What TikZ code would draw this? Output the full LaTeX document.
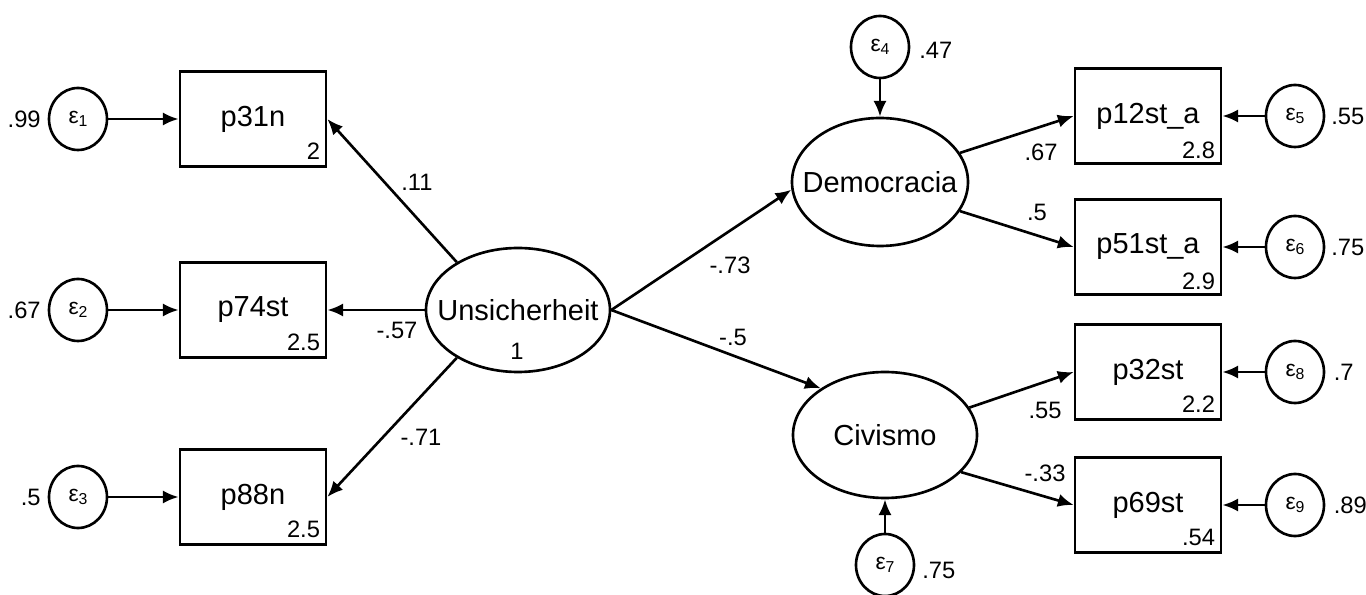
\documentclass[tikz,border=0pt]{standalone}
\usepackage{fontspec}
\setmainfont{Liberation Sans}
\usepackage{tikz}
\usetikzlibrary{shapes.geometric}
\usetikzlibrary{arrows.meta}
\newcommand{\err}[1]{ε\raisebox{-0.25ex}{\fontsize{9}{9}\selectfont #1}}

\begin{document}
\begin{tikzpicture}[
    >={Latex[length=9pt,width=7.5pt]},
    every path/.style={line width=1.5pt},
    obs/.style={draw, rectangle, minimum width=2.92cm, minimum height=1.9cm, font=\fontsize{16.5}{19}\selectfont},
    lat/.style={draw, ellipse, inner sep=0pt, font=\fontsize{16.5}{19}\selectfont},
    errc/.style={draw, ellipse, inner sep=0pt, minimum width=1.16cm, minimum height=1.24cm, font=\fontsize{13}{15}\selectfont},
    coef/.style={inner sep=0pt, font=\fontsize{13.5}{15}\selectfont},
    cons/.style={inner sep=0pt, anchor=south east, font=\fontsize{13.5}{15}\selectfont}
  ]
    \useasboundingbox (0,0) rectangle (27.32,-11.9);

    \node[lat, minimum width=3.68cm, minimum height=2.48cm] (Unsicherheit) at (10.36,-6.2){\makebox[0pt]{Unsicherheit}};
    \node[lat, minimum width=3.52cm, minimum height=2.56cm] (Democracia) at (17.6,-3.64){\makebox[0pt]{Democracia}};
    \node[lat, minimum width=3.68cm, minimum height=2.52cm] (Civismo) at (17.7,-8.7){\makebox[0pt]{Civismo}};
    \node[coef] (one) at (10.34,-7.02){1};

    \node[obs] (p31n) at (5.06,-2.38){p31n};
    \node[obs] (p74st) at (5.06,-6.2){p74st};
    \node[obs] (p88n) at (5.06,-9.94){p88n};
    \node[obs] (p12st_a) at (22.96,-2.32){p12st\_a};
    \node[obs] (p51st_a) at (22.96,-4.94){p51st\_a};
    \node[obs] (p32st) at (22.96,-7.44){p32st};
    \node[obs] (p69st) at (22.96,-10.1){p69st};

    \node[cons] (c31) at ([shift={(-0.12,0.14)}]p31n.south east){2};
    \node[cons] (c74) at ([shift={(-0.12,0.14)}]p74st.south east){2.5};
    \node[cons] (c88) at ([shift={(-0.12,0.14)}]p88n.south east){2.5};
    \node[cons] (c12) at ([shift={(-0.12,0.1)}]p12st_a.south east){2.8};
    \node[cons] (c51) at ([shift={(-0.12,0.1)}]p51st_a.south east){2.9};
    \node[cons] (c32) at ([shift={(-0.12,0.14)}]p32st.south east){2.2};
    \node[cons] (c69) at ([shift={(-0.12,0.14)}]p69st.south east){.54};

    \node[errc] (e1) at (1.56,-2.38){\err{1}};
    \node[errc] (e2) at (1.56,-6.2){\err{2}};
    \node[errc] (e3) at (1.56,-9.94){\err{3}};
    \node[errc] (e4) at (17.6,-0.94){\err{4}};
    \node[errc] (e5) at (25.9,-2.32){\err{5}};
    \node[errc] (e6) at (25.9,-4.94){\err{6}};
    \node[errc] (e7) at (17.7,-11.3){\err{7}};
    \node[errc] (e8) at (25.9,-7.44){\err{8}};
    \node[errc] (e9) at (25.9,-10.1){\err{9}};

    \node[coef, anchor=east] (v1) at (0.84,-2.38){.99};
    \node[coef, anchor=east] (v2) at (0.84,-6.2){.67};
    \node[coef, anchor=east] (v3) at (0.84,-9.94){.5};
    \node[coef, anchor=west] (v4) at (18.36,-1.0){.47};
    \node[coef, anchor=west] (v5) at (26.6,-2.32){.55};
    \node[coef, anchor=west] (v6) at (26.6,-4.94){.75};
    \node[coef, anchor=west] (v7) at (18.42,-11.4){.75};
    \node[coef, anchor=west] (v8) at (26.65,-7.44){.7};
    \node[coef, anchor=west] (v9) at (26.65,-10.1){.89};

    \node[coef] (w31) at (8.34,-3.64){.11};
    \node[coef] (w74) at (7.94,-6.6){-.57};
    \node[coef] (w88) at (8.42,-8.74){-.71};
    \node[coef] (wD) at (14.6,-5.3){-.73};
    \node[coef] (wC) at (14.66,-6.74){-.5};
    \node[coef] (w12) at (20.82,-3.04){.67};
    \node[coef] (w51) at (20.74,-4.24){.5};
    \node[coef] (w32) at (20.9,-8.2){.55};
    \node[coef] (w69) at (20.9,-9.46){-.33};

    \draw[->] (Unsicherheit.142) -- (p31n.east);
    \draw[->] (Unsicherheit.west) -- (p74st.east);
    \draw[->] (Unsicherheit.218) -- (p88n.east);
    \draw[->] (Unsicherheit.east) -- (Democracia.185);
    \draw[->] (Unsicherheit.east) -- (Civismo.144);
    \draw[->] (Democracia.20) -- (p12st_a.west);
    \draw[->] (Democracia.340) -- (p51st_a.west);
    \draw[->] (Civismo.18) -- (p32st.west);
    \draw[->] (Civismo.334) -- (p69st.west);

    \draw[->] (e1) -- (p31n);
    \draw[->] (e2) -- (p74st);
    \draw[->] (e3) -- (p88n);
    \draw[->] (e4) -- (Democracia);
    \draw[->] (e5) -- (p12st_a);
    \draw[->] (e6) -- (p51st_a);
    \draw[->] (e7) -- (Civismo);
    \draw[->] (e8) -- (p32st);
    \draw[->] (e9) -- (p69st);
\end{tikzpicture}
\end{document}
